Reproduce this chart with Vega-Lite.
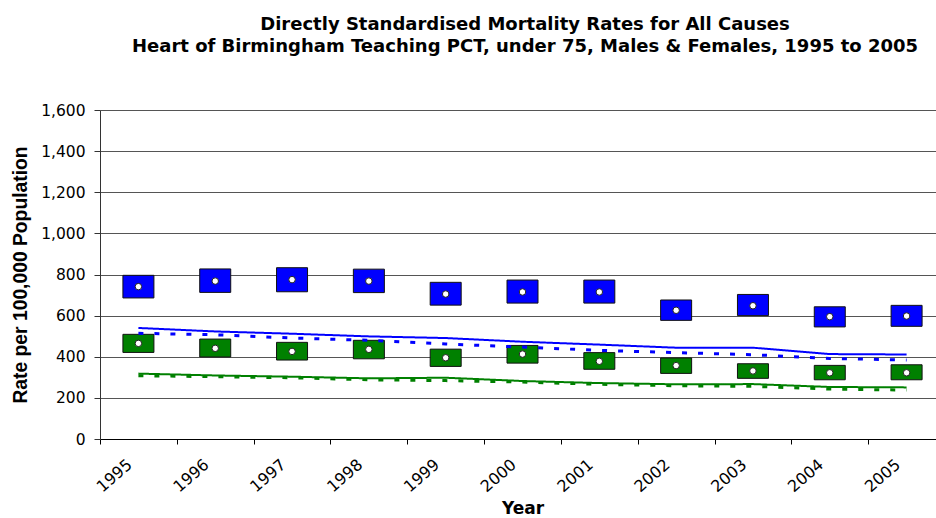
{
  "$schema": "https://vega.github.io/schema/vega-lite/v6.json",
  "width": 836,
  "height": 329,
  "autosize": {"type": "none"},
  "padding": {"left": 100, "top": 110, "right": 0, "bottom": 79},
  "background": "white",
  "config": {"view": {"stroke": null}},
  "title": {
    "text": ["Directly Standardised Mortality Rates for All Causes", "Heart of Birmingham Teaching PCT, under 75, Males & Females, 1995 to 2005"],
    "font": "DejaVu Sans",
    "fontSize": 18,
    "fontWeight": "bold",
    "color": "#000000",
    "anchor": "middle",
    "frame": "group",
    "lineHeight": 22.5,
    "offset": 47,
    "dx": 7
  },
  "datasets": {
    "boxes": [
      {"year": "1995", "sex": "Males", "lo": 686, "hi": 796, "rate": 741},
      {"year": "1996", "sex": "Males", "lo": 713, "hi": 827, "rate": 768},
      {"year": "1997", "sex": "Males", "lo": 716, "hi": 833, "rate": 775},
      {"year": "1998", "sex": "Males", "lo": 712, "hi": 826, "rate": 768},
      {"year": "1999", "sex": "Males", "lo": 651, "hi": 762, "rate": 705},
      {"year": "2000", "sex": "Males", "lo": 661, "hi": 773, "rate": 715},
      {"year": "2001", "sex": "Males", "lo": 661, "hi": 773, "rate": 715},
      {"year": "2002", "sex": "Males", "lo": 577, "hi": 676, "rate": 626},
      {"year": "2003", "sex": "Males", "lo": 600, "hi": 703, "rate": 648},
      {"year": "2004", "sex": "Males", "lo": 545, "hi": 643, "rate": 595},
      {"year": "2005", "sex": "Males", "lo": 548, "hi": 650, "rate": 598},
      {"year": "1995", "sex": "Females", "lo": 421, "hi": 509, "rate": 465},
      {"year": "1996", "sex": "Females", "lo": 399, "hi": 486, "rate": 441},
      {"year": "1997", "sex": "Females", "lo": 384, "hi": 470, "rate": 426},
      {"year": "1998", "sex": "Females", "lo": 390, "hi": 480, "rate": 436},
      {"year": "1999", "sex": "Females", "lo": 353, "hi": 437, "rate": 395},
      {"year": "2000", "sex": "Females", "lo": 369, "hi": 455, "rate": 413},
      {"year": "2001", "sex": "Females", "lo": 339, "hi": 420, "rate": 378},
      {"year": "2002", "sex": "Females", "lo": 319, "hi": 394, "rate": 357},
      {"year": "2003", "sex": "Females", "lo": 295, "hi": 366, "rate": 331},
      {"year": "2004", "sex": "Females", "lo": 288, "hi": 358, "rate": 322},
      {"year": "2005", "sex": "Females", "lo": 288, "hi": 361, "rate": 322}
    ],
    "lines": [
      {"year": "1995", "sex": "Males", "ref": "Comparator 1", "value": 540},
      {"year": "1996", "sex": "Males", "ref": "Comparator 1", "value": 523},
      {"year": "1997", "sex": "Males", "ref": "Comparator 1", "value": 512},
      {"year": "1998", "sex": "Males", "ref": "Comparator 1", "value": 499},
      {"year": "1999", "sex": "Males", "ref": "Comparator 1", "value": 491},
      {"year": "2000", "sex": "Males", "ref": "Comparator 1", "value": 473},
      {"year": "2001", "sex": "Males", "ref": "Comparator 1", "value": 459},
      {"year": "2002", "sex": "Males", "ref": "Comparator 1", "value": 444},
      {"year": "2003", "sex": "Males", "ref": "Comparator 1", "value": 444},
      {"year": "2004", "sex": "Males", "ref": "Comparator 1", "value": 413},
      {"year": "2005", "sex": "Males", "ref": "Comparator 1", "value": 411},
      {"year": "1995", "sex": "Males", "ref": "Comparator 2", "value": 514},
      {"year": "1996", "sex": "Males", "ref": "Comparator 2", "value": 507},
      {"year": "1997", "sex": "Males", "ref": "Comparator 2", "value": 491},
      {"year": "1998", "sex": "Males", "ref": "Comparator 2", "value": 480},
      {"year": "1999", "sex": "Males", "ref": "Comparator 2", "value": 462},
      {"year": "2000", "sex": "Males", "ref": "Comparator 2", "value": 447},
      {"year": "2001", "sex": "Males", "ref": "Comparator 2", "value": 431},
      {"year": "2002", "sex": "Males", "ref": "Comparator 2", "value": 420},
      {"year": "2003", "sex": "Males", "ref": "Comparator 2", "value": 410},
      {"year": "2004", "sex": "Males", "ref": "Comparator 2", "value": 392},
      {"year": "2005", "sex": "Males", "ref": "Comparator 2", "value": 384},
      {"year": "1995", "sex": "Females", "ref": "Comparator 1", "value": 318},
      {"year": "1996", "sex": "Females", "ref": "Comparator 1", "value": 309},
      {"year": "1997", "sex": "Females", "ref": "Comparator 1", "value": 303},
      {"year": "1998", "sex": "Females", "ref": "Comparator 1", "value": 295},
      {"year": "1999", "sex": "Females", "ref": "Comparator 1", "value": 298},
      {"year": "2000", "sex": "Females", "ref": "Comparator 1", "value": 282},
      {"year": "2001", "sex": "Females", "ref": "Comparator 1", "value": 272},
      {"year": "2002", "sex": "Females", "ref": "Comparator 1", "value": 266},
      {"year": "2003", "sex": "Females", "ref": "Comparator 1", "value": 267},
      {"year": "2004", "sex": "Females", "ref": "Comparator 1", "value": 253},
      {"year": "2005", "sex": "Females", "ref": "Comparator 1", "value": 251},
      {"year": "1995", "sex": "Females", "ref": "Comparator 2", "value": 308},
      {"year": "1996", "sex": "Females", "ref": "Comparator 2", "value": 303},
      {"year": "1997", "sex": "Females", "ref": "Comparator 2", "value": 298},
      {"year": "1998", "sex": "Females", "ref": "Comparator 2", "value": 288},
      {"year": "1999", "sex": "Females", "ref": "Comparator 2", "value": 284},
      {"year": "2000", "sex": "Females", "ref": "Comparator 2", "value": 277},
      {"year": "2001", "sex": "Females", "ref": "Comparator 2", "value": 266},
      {"year": "2002", "sex": "Females", "ref": "Comparator 2", "value": 259},
      {"year": "2003", "sex": "Females", "ref": "Comparator 2", "value": 256},
      {"year": "2004", "sex": "Females", "ref": "Comparator 2", "value": 243},
      {"year": "2005", "sex": "Females", "ref": "Comparator 2", "value": 238}
    ]
  },
  "encoding": {
    "x": {
      "field": "year",
      "type": "ordinal",
      "scale": {"paddingInner": 0, "paddingOuter": 0, "range": [0, 845]},
      "axis": {
        "title": "Year",
        "titleFont": "DejaVu Sans",
        "titleFontSize": 17,
        "titleFontWeight": "bold",
        "titleColor": "#000000",
        "titleX": 422.5,
        "titleY": 74,
        "titleAlign": "center",
        "titleBaseline": "alphabetic",
        "labelAngle": 319,
        "labelAlign": "right",
        "labelBaseline": "middle",
        "labelFont": "DejaVu Sans",
        "labelFontSize": 16,
        "labelColor": "#000000",
        "labelPadding": 18,
        "labelOffset": -9,
        "tickBand": "extent",
        "tickSize": 5,
        "tickColor": "#000000",
        "domainColor": "#000000",
        "grid": false
      }
    }
  },
  "layer": [
    {
      "data": {"name": "boxes"},
      "mark": {"type": "bar", "stroke": "#111111", "strokeWidth": 1, "size": 31, "opacity": 1},
      "encoding": {
        "y": {
          "field": "lo",
          "type": "quantitative",
          "scale": {"domain": [0, 1600], "nice": false},
          "axis": {
            "title": "Rate per 100,000 Population",
            "values": [0, 200, 400, 600, 800, 1000, 1200, 1400, 1600],
            "format": ",.0f",
            "grid": true,
            "gridColor": "#555555",
            "gridWidth": 1,
            "tickSize": 6,
            "tickColor": "#333333",
            "domainColor": "#333333",
            "labelFont": "DejaVu Sans",
            "labelFontSize": 15.5,
            "labelPadding": 9,
            "labelColor": "#000000",
            "titleFont": "Liberation Sans",
            "titleFontSize": 19.3,
            "titleFontWeight": "bold",
            "titleColor": "#000000",
            "titleX": -80,
            "titleY": 164.5,
            "titleAngle": 270,
            "titleAlign": "center",
            "titleBaseline": "middle"
          }
        },
        "y2": {"field": "hi"},
        "color": {
          "field": "sex",
          "type": "nominal",
          "scale": {"domain": ["Males", "Females"], "range": ["#0000FF", "#008000"]},
          "legend": null
        }
      }
    },
    {
      "data": {"name": "lines"},
      "mark": {"type": "line"},
      "encoding": {
        "y": {"field": "value", "type": "quantitative"},
        "color": {
          "field": "sex",
          "type": "nominal",
          "scale": {"domain": ["Males", "Females"], "range": ["#0000FF", "#008000"]},
          "legend": null
        },
        "strokeDash": {
          "field": "ref",
          "type": "nominal",
          "scale": {"domain": ["Comparator 1", "Comparator 2"], "range": [[1, 0], [5, 11]]},
          "legend": null
        },
        "strokeWidth": {
          "field": "ref",
          "type": "nominal",
          "scale": {"domain": ["Comparator 1", "Comparator 2"], "range": [2, 3]},
          "legend": null
        }
      }
    },
    {
      "data": {"name": "boxes"},
      "mark": {"type": "point", "shape": "circle", "filled": true, "fill": "#FFFFFF", "stroke": "#222222", "strokeWidth": 1, "size": 42, "opacity": 1},
      "encoding": {
        "y": {"field": "rate", "type": "quantitative"}
      }
    }
  ]
}
